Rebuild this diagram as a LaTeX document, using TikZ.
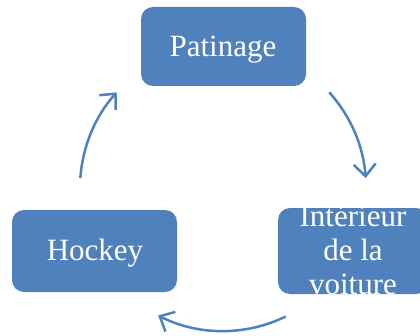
\documentclass[tikz,border=0pt]{standalone}
\usepackage{fontspec}
\setmainfont{Liberation Serif}
\usetikzlibrary{arrows.meta}
\definecolor{boxblue}{HTML}{4F81BD}
\begin{document}
\begin{tikzpicture}[x=1pt,y=1pt,
  box/.style={fill=boxblue, rounded corners=12pt, inner sep=0pt, draw=none},
  lbl/.style={text=white, font=\fontsize{31}{34}\selectfont, anchor=base, inner sep=0pt},
  cyc/.style={draw=boxblue, line width=2.5pt, -{Straight Barb[length=12pt,width=22pt]}}]
\useasboundingbox (0,0) rectangle (420,335);
\clip (0,0) rectangle (420,335);
\coordinate (c) at (223,147);
% boxes
\node[box, minimum width=165pt, minimum height=79pt] (patbox) at (223.5,288.5) {};
\node[box, minimum width=165pt, minimum height=82pt] (hockbox) at (94.5,84) {};
\node[box, minimum width=150pt, minimum height=86pt] (intbox) at (353,84) {};
% texts
\node[lbl] (pat) at (223,278) {Patinage};
\node[lbl] (hock) at (95,75) {Hockey};
\begin{scope}
  \clip[rounded corners=12pt] (intbox.south west) rectangle (intbox.north east);
  \node[lbl] (int1) at (353,109) {Intérieur};
  \node[lbl] (int2) at (353,75) {de la};
  \node[lbl] (int3) at (353,41) {voiture};
\end{scope}
% cycle arrows
\draw[cyc] (c) ++(176:143) arc[start angle=176, end angle=138, radius=143];
\draw[cyc] (c) ++(42:143) arc[start angle=42, end angle=4, radius=143];
\draw[cyc] (c) ++(-64:143) arc[start angle=-64, end angle=-117, radius=143];
\end{tikzpicture}
\end{document}
